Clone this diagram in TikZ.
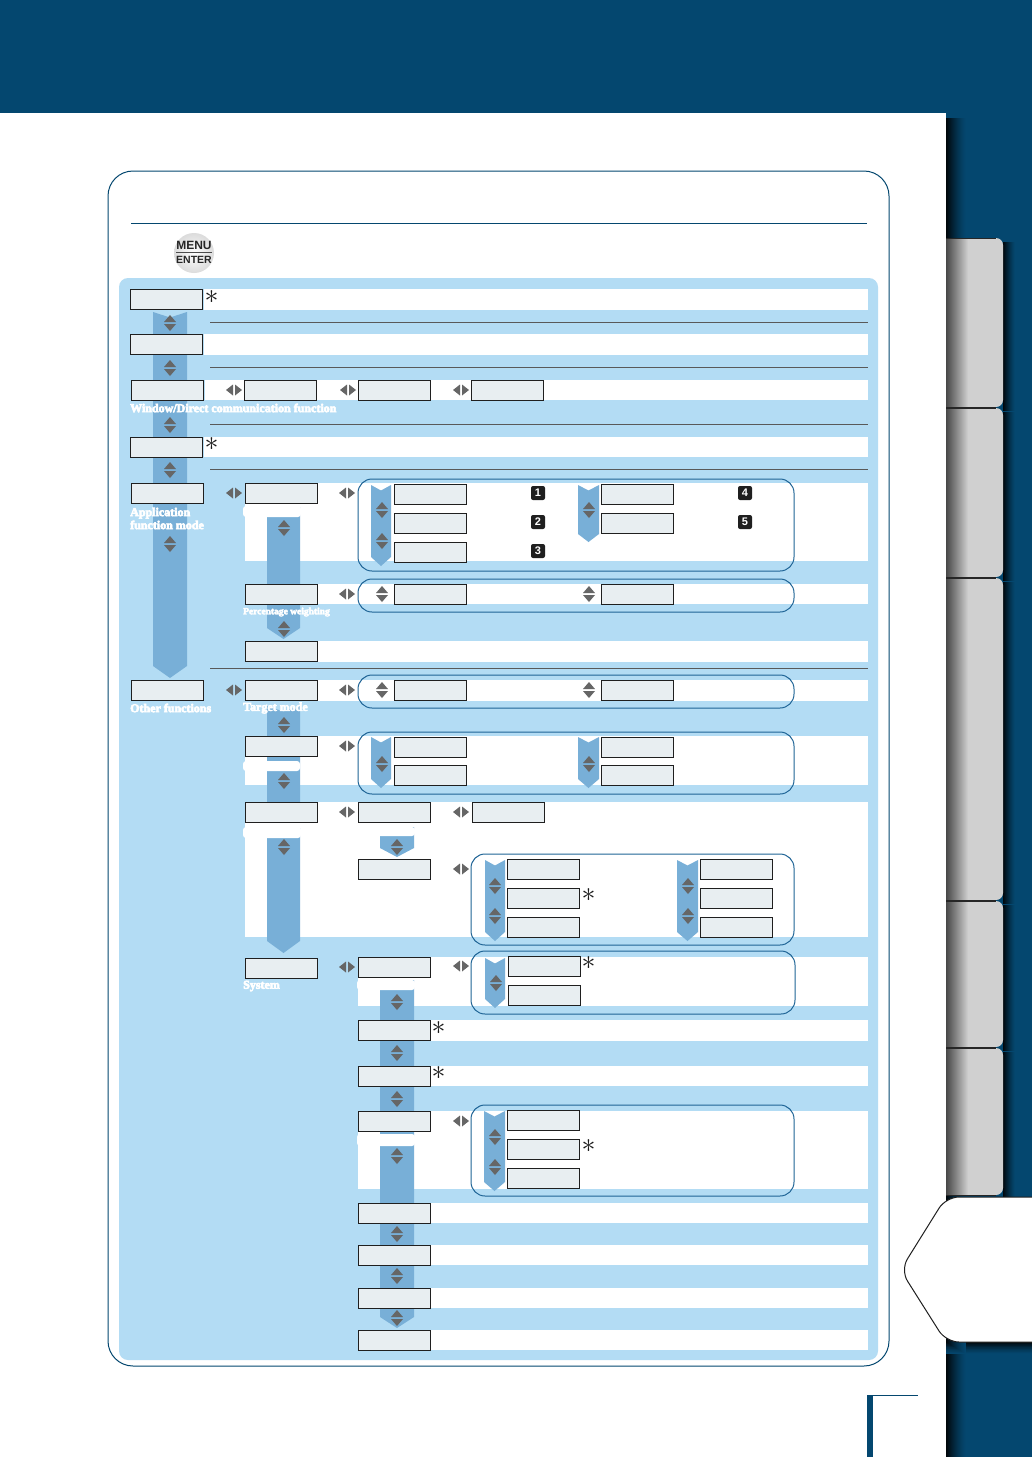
\documentclass[tikz,border=0pt]{standalone}
\usepackage{fontspec}
\usepackage{xcolor}
\usepackage{tikz}
\newfontfamily\glowfont[FakeBold=5]{Liberation Serif Bold}
\newfontfamily\menufont{Liberation Sans Bold}
\definecolor{pageblue}{HTML}{04476F}
\definecolor{panelblue}{HTML}{B3DCF4}
\definecolor{bandblue}{HTML}{78AFD7}
\definecolor{boxgrey}{HTML}{E8EEF1}
\definecolor{arrowgrey}{HTML}{666666}
\definecolor{framecol}{HTML}{1F6496}
\definecolor{tabgrey}{HTML}{D0D0D0}
\tikzset{
    menubox/.style={draw=black!88, fill=boxgrey, line width=1.1pt, minimum width=72pt, minimum height=20pt, inner sep=0pt, anchor=north west},
    numsquare/.style={fill=black!88, text=white, rounded corners=2pt, minimum size=14pt, inner sep=0pt, font=\menufont\fontsize{11}{11}\selectfont},
    starmark/.style={inner sep=0pt, text=black!90, scale=1.12, font=\fontsize{24}{24}\selectfont},
    glowlabel/.style={anchor=west, inner sep=0pt, text=white, align=left, font=\glowfont\fontsize{12}{13}\selectfont},
    optframe/.style={draw=framecol, line width=1pt, rounded corners=14pt},
    updown/.pic={
        \fill[arrowgrey] (-6,-1) -- (0,-8) -- (6,-1) -- cycle;
        \fill[arrowgrey] (-6,1) -- (0,8) -- (6,1) -- cycle;
    },
    leftright/.pic={
        \fill[arrowgrey] (-1,-5.5) -- (-8,0) -- (-1,5.5) -- cycle;
        \fill[arrowgrey] (1,-5.5) -- (8,0) -- (1,5.5) -- cycle;
    }
}
\begin{document}
\begin{tikzpicture}[x=1pt, y=-1pt]
    \useasboundingbox (0,0) rectangle (1032,1457);
    % page and side tabs
    \fill[pageblue] (0,0) rectangle (1032,1457);
    \foreach \i in {0,...,19} {
        \pgfmathsetmacro{\p}{92*(1-\i/20)^1.4}
        \fill[black!\p!pageblue] (946+\i,118) rectangle (947+\i,1457);
        \fill[black!\p!pageblue] (946,1342+\i*0.6) rectangle (1032,1342.6+\i*0.6);
    }
    \foreach \t/\b in {238/407,408/577,578/900,901/1047,1048/1195} {
        \foreach \i in {0,...,11} {
            \pgfmathsetmacro{\p}{88*(1-\i/12)^1.3}
            \fill[black!\p!pageblue] (1003+\i,\t+4) rectangle (1004+\i,\b+4);
        }
        \fill[tabgrey, rounded corners=7pt] (930,\t) rectangle (1003,\b);
        \shade[left color=black!72, right color=tabgrey] (946,\t) rectangle (968,\b);
        \draw[black!85, line width=0.8pt] (946,\t) -- (996,\t);
        \draw[black!85, line width=0.8pt] (946,\b) -- (996,\b);
    }
    \fill[white] (0,113) rectangle (946,1457);
    \draw[black!88, line width=1pt, fill=white, rounded corners=13pt] (1045,1197) -- (946,1197) -- (900.5,1270) -- (946,1342) -- (1045,1342);
    \fill[pageblue] (867,1395) rectangle (873,1457);
    \draw[pageblue, line width=1pt] (867,1395) -- (918,1395);
    % outer frame and panel
    \draw[pageblue, line width=1pt, rounded corners=25pt] (108,171) rectangle (889,1366);
    \draw[pageblue, line width=0.9pt] (131,223) -- (867,223);
    \fill[panelblue, rounded corners=9pt] (119,278) rectangle (878,1360);
    % button
    \shade[inner color=white, outer color=gray!28] (194,253) circle (20);
    \node[inner sep=0pt, text=black!85, font=\menufont\fontsize{12}{12}\selectfont] (menulabel) at (194,245.5) {MENU};
    \node[inner sep=0pt, text=black!85, font=\menufont\fontsize{10.5}{12}\selectfont] (enterlabel) at (194,259.5) {ENTER};
    \draw[black!70, line width=0.7pt] (176,252.5) -- (212,252.5);
    % white rows
    \foreach \x/\t/\b in {204/289/310,204/334/355,205/380/400,204/437/457,245/483/561,318/584/604,318/641/662,245/680/701,245/736/785,245/802/937,358/957/1006,431/1020/1041,431/1066/1086,358/1111/1189,431/1203/1223,431/1245/1265,431/1288/1308,431/1330/1350} {
        \fill[white] (\x,\t) rectangle (868,\b);
    }
    \foreach \y in {322,367,424,469,668} {
        \draw[black!65, line width=0.8pt] (210,\y) -- (868,\y);
    }
    % blue bands
    \foreach \x/\w/\t/\s/\b in {153/34/312/666/678,267/33/507/628/639,267/33/706/803/805,267/33/828/941/953,380/34/827/848/857,380/34/980/1317/1328,371/20/485/557/566,578/21/485/534/542,371/20/737/779/788,578/21/737/779/788,485/20/860/932/941,677/21/860/932/941,485/20/958/999/1008,484/21/1111/1182/1191} {
        \fill[bandblue] (\x,\t) -- (\x+\w/2,\t+5.5) -- (\x+\w,\t) -- (\x+\w,\s) -- (\x+\w/2,\b) -- (\x,\s) -- cycle;
    }
    % white patches of the blurred labels
    \foreach \l/\t/\r/\b in {243/506/301/517,243/761/300/771,243/827/301/838,357/827/415/836,357/980/415/990,357/1134/415/1146} {
        \fill[white, rounded corners=3pt] (\l,\t) rectangle (\r,\b);
    }
    % option frames
    \foreach \l/\t/\r/\b in {358/479/794/571,358/579/794/612,358/675/794/708,358/732/794/794,471/854/794/945,471/951/795/1014,471/1105/794/1196} {
        \draw[optframe] (\l,\t) rectangle (\r,\b);
    }
    % menu boxes
    \foreach \n/\x/\y in {top/130/289,second/130/334,wifi/131/380,wifia/244/380,wifib/358/380,wific/471/380,fourth/130/437,app/131/483,appa/245/483,optaa/394/484,optab/394/513,optac/394/542,optad/601/484,optae/601/513,weight/245/584,optba/394/584,optbb/601/584,appc/245/641,other/131/680,target/245/680,optca/394/680,optcb/601/680,contrast/245/736,optda/394/737,optdb/394/765,optdc/601/737,optdd/601/765,voice/245/802,voicea/358/802,voiceb/472/802,voicec/358/859,optea/507/859,opteb/507/888,optec/507/917,opted/700/859,optee/700/888,optef/700/917,system/245/958,sysa/358/957,optfa/508/956,optfb/508/985,sysb/358/1020,sysc/358/1066,sysd/358/1111,optga/507/1110,optgb/507/1139,optgc/507/1168,syse/358/1203,sysf/358/1245,sysg/358/1288,sysh/358/1330} {
        \node[menubox] (box\n) at (\x,\y) {};
    }
    % arrows
    \foreach \x/\y in {170/323,170/368,170/425,170/470,170/544,382/510,382/541,589/510,284/528,284/629,382/594,589/594,382/690,589/690,284/725,382/764,589/764,284/781,284/847,397/847,495/886,495/916,688/886,688/916,496/983,397/1002,397/1053,397/1099,495/1137,495/1167,397/1156,397/1234,397/1276,397/1318} {
        \pic at (\x,\y) {updown};
    }
    \foreach \x/\y in {234/390,348/390,461/390,234/493,347/493,347/594,234/690,347/690,347/746,347/812,461/812,461/869,347/967,461/966,461/1121} {
        \pic at (\x,\y) {leftright};
    }
    % asterisks
    \foreach \x/\y [count=\n] in {211.5/297,211.5/444,588.5/895,588.5/963,438.5/1028,438.5/1073,588.5/1146} {
        \node[starmark] (star\n) at (\x,\y) {$\ast$};
    }
    % numbered squares
    \foreach \x/\y/\c in {538/493/1,538/522/2,538/551/3,745/493/4,745/522/5} {
        \node[numsquare] (num\c) at (\x,\y) {\c};
    }
    % labels
    \node[glowlabel] (lblwifi) at (130,408) {Window/Direct communication function};
    \node[glowlabel] (lblapp) at (130,518.5) {Application\\function mode};
    \node[glowlabel, font=\glowfont\fontsize{9.5}{11}\selectfont] (lblweight) at (243,612) {Percentage weighting};
    \node[glowlabel] (lblother) at (130,708) {Other functions};
    \node[glowlabel] (lbltarget) at (243,708) {Target mode};
    \node[glowlabel] (lblsystem) at (243,986) {System};
\end{tikzpicture}
\end{document}
